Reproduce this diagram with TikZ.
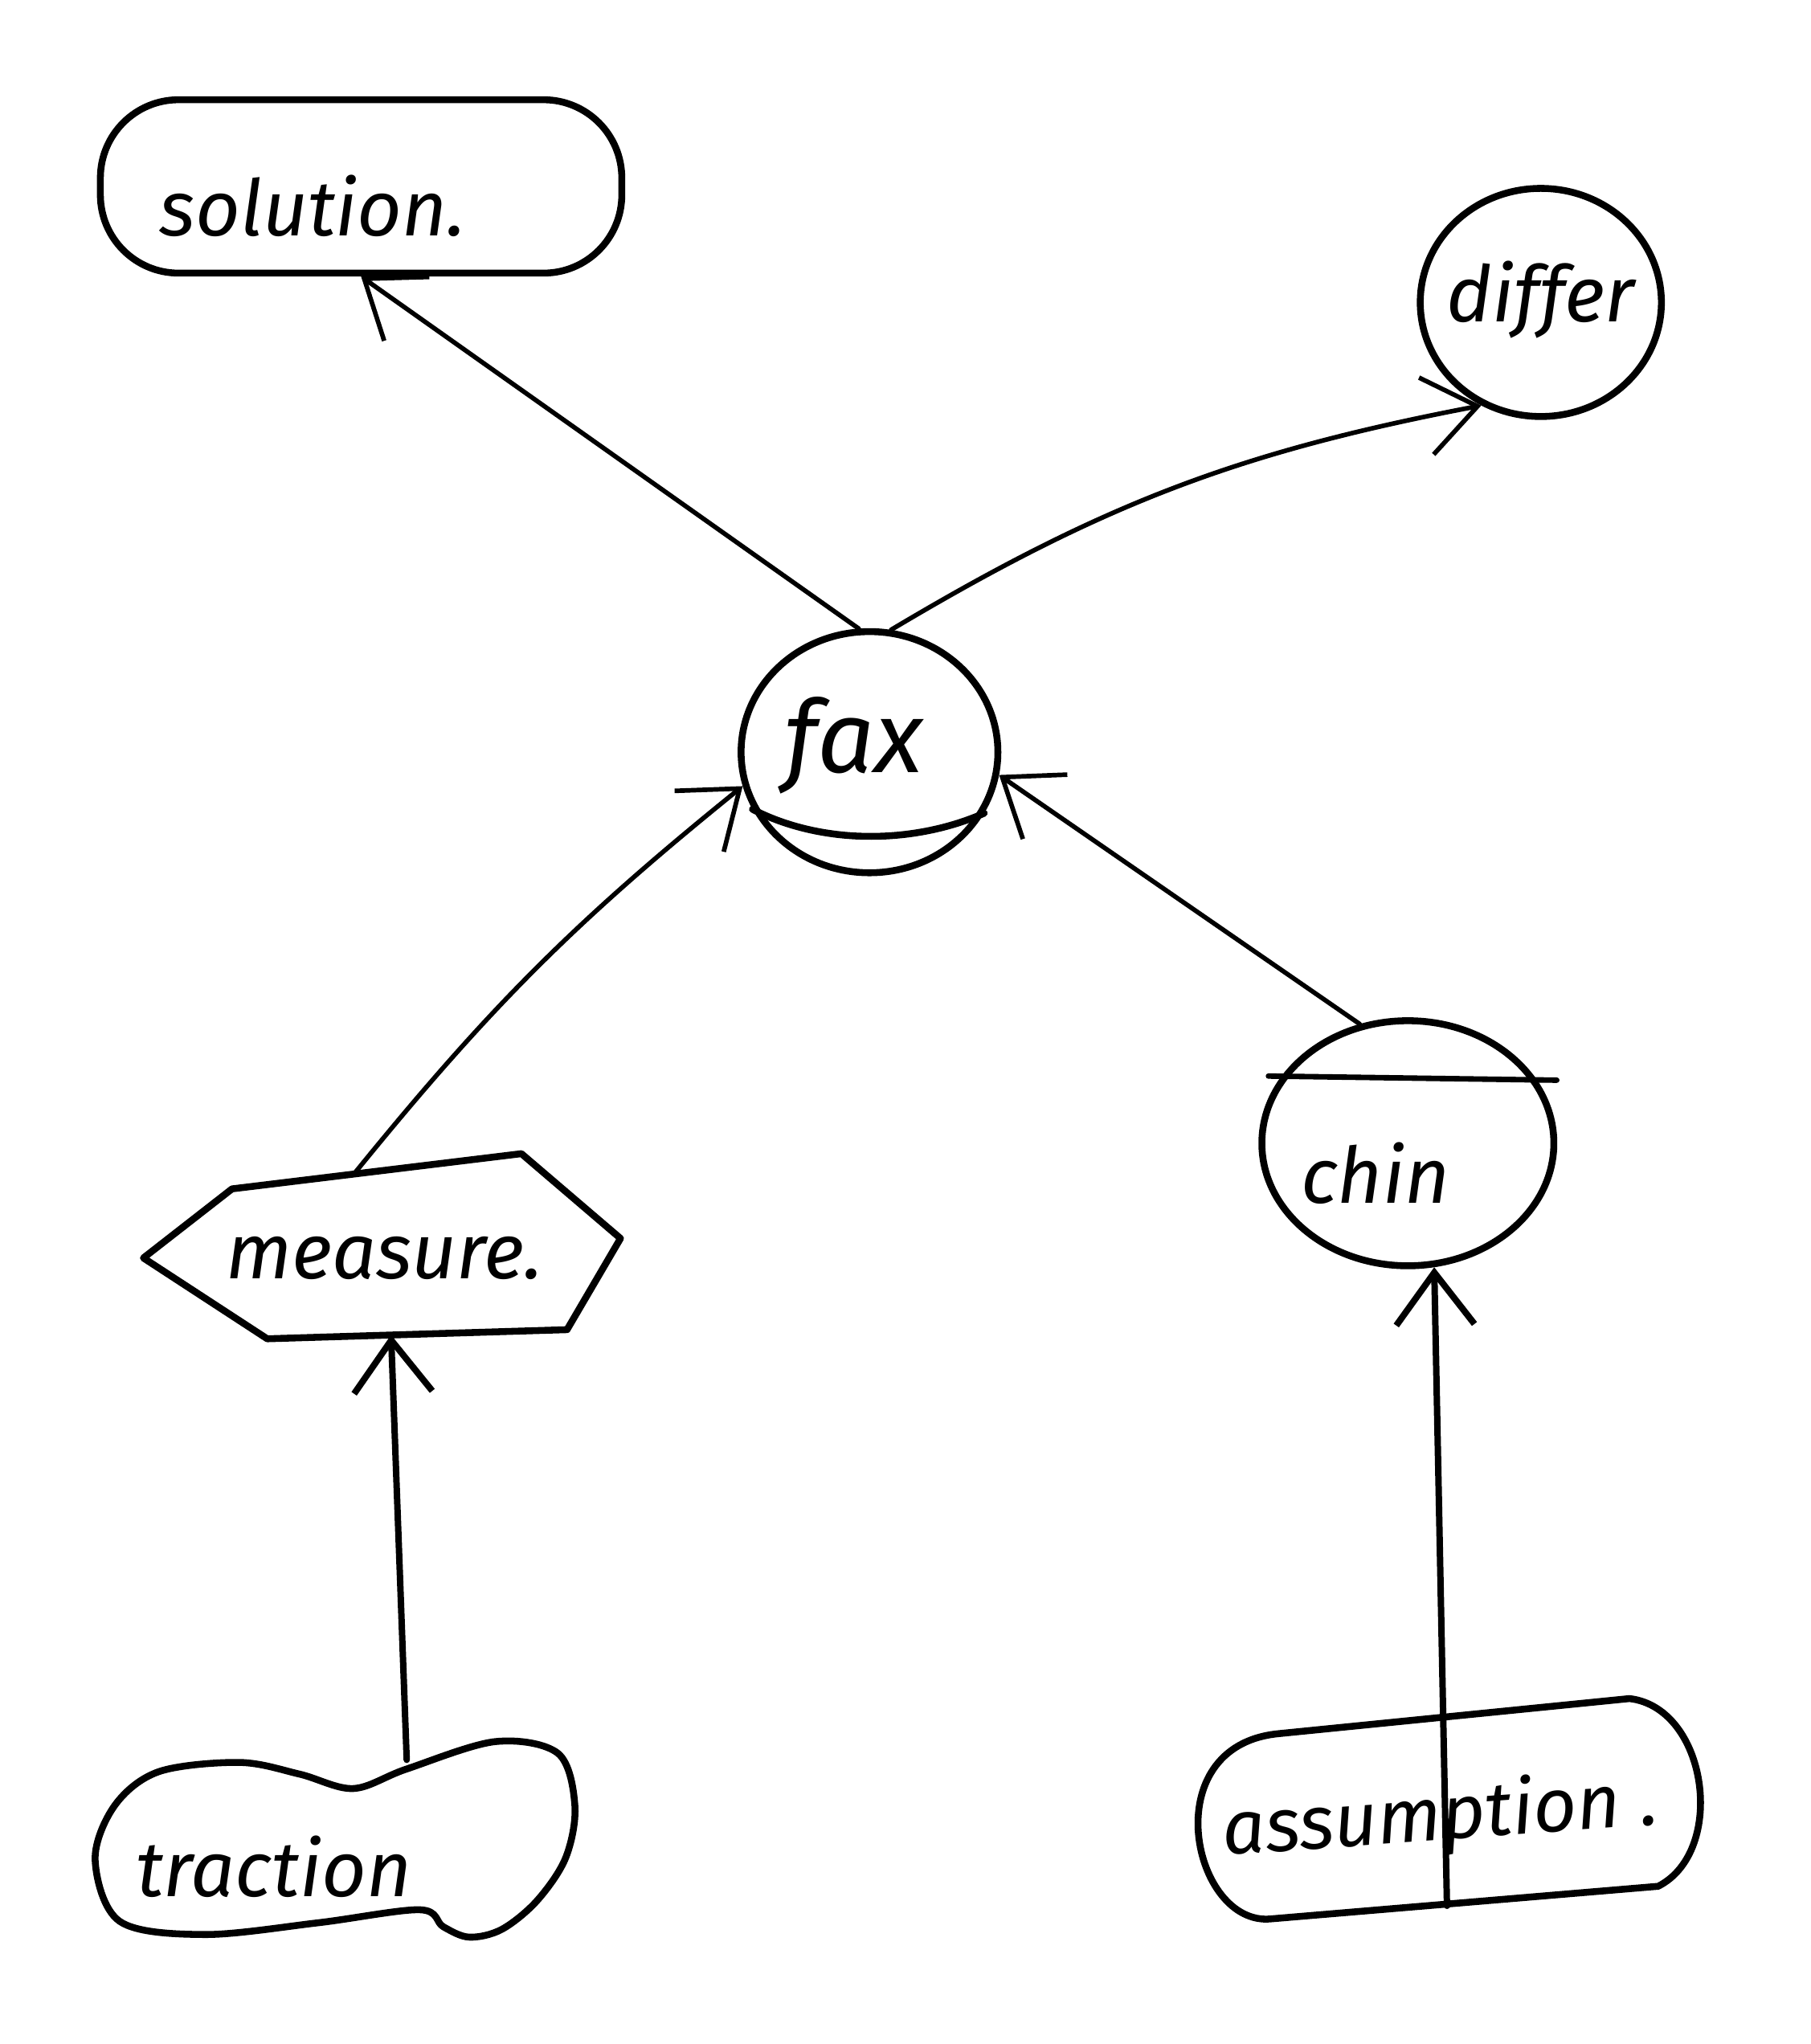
\documentclass[tikz,border=0pt]{standalone}
\usepackage{fontspec}
\setmainfont{Fira Sans}
\usetikzlibrary{arrows.meta,shapes.geometric}
\begin{document}
\begin{tikzpicture}[x=0.1mm,y=-0.1mm,
  shapeline/.style={draw=black, line width=1.5pt, line join=round, line cap=round},
  edge/.style={draw=black, line width=1pt, line cap=round, -{Straight Barb[length=4mm,width=6mm]}},
  thickedge/.style={edge, line width=1.4pt},
  lbl/.style={font=\itshape\fontsize{17}{20}\selectfont, inner sep=0pt},
  oval/.style={shapeline, ellipse, inner sep=0pt}
]
\useasboundingbox[fill=white] (0,0) rectangle (1389,1568);

% solution
\node[shapeline, rectangle, rounded corners=6mm, minimum width=40mm, minimum height=13.3mm] (sol) at (277,143) {};
\node[lbl] (soltext) at (240,158) {solution.};

% differ
\node[oval, minimum width=18.5mm, minimum height=17.5mm] (dif) at (1182,232) {};
\node[lbl] (diftext) at (1182,230) {differ};

% fax
\node[oval, minimum width=19.7mm, minimum height=18.5mm] (fax) at (667,577) {};
\node[lbl, font=\itshape\fontsize{22}{24}\selectfont] (faxtext) at (655,572) {fax};
\draw[shapeline] (fax.206) .. controls (630,648) and (700,648) .. (fax.332);

% chin
\node[oval, minimum width=22.4mm, minimum height=18.8mm] (chin) at (1080,877) {};
\draw[shapeline, line width=1.2pt] ([xshift=-1mm]chin.152) -- ([xshift=1.5mm]chin.26);
\node[lbl] (chintext) at (1055,900) {chin};

% measure
\coordinate (mL) at (110,965);
\coordinate (mTL) at (178,912);
\coordinate (mTR) at (400,885);
\coordinate (mR) at (476,950);
\coordinate (mBR) at (435,1020);
\coordinate (mBL) at (205,1027);
\draw[shapeline] (mL) -- (mTL) -- (mTR) -- (mR) -- (mBR) -- (mBL) -- cycle;
\node[lbl] (meastext) at (295,965) {measure.};
\coordinate (mtop) at (272,900);
\coordinate (mbot) at (300,1024);

% traction
\draw[shapeline] plot[smooth cycle, tension=0.55] coordinates {
  (122,1359) (184,1352) (230,1361) (271,1372) (312,1357) (380,1336) (428,1345)
  (441,1385) (434,1425) (412,1458) (385,1480) (360,1486) (340,1478) (322,1465)
  (244,1475) (157,1484) (92,1474) (73,1427) (88,1385)};
\node[lbl] (tractext) at (210,1432) {traction};
\coordinate (ttop) at (312,1350);

% assumption
\draw[shapeline] (980,1330) -- (1250,1303) .. controls (1310,1310) and (1325,1420) .. (1272,1447)
  -- (975,1472) .. controls (915,1478) and (885,1340) .. cycle;
\node[lbl, rotate=4, font=\itshape\fontsize{16.5}{20}\selectfont] (asstext) at (1105,1395) {assumption .};
\coordinate (abot) at (1110,1462);

% connectors
\draw[edge] (fax.95) -- (sol.south);
\draw[edge] (fax.80) to[bend left=10] (dif.-120);
\draw[edge] (mtop) to[bend left=6] (fax.195);
\draw[edge] (chin.112) -- (fax.-10);
\draw[thickedge] (ttop) -- (mbot);
\draw[thickedge] (abot) -- (chin.-78);
\end{tikzpicture}
\end{document}
